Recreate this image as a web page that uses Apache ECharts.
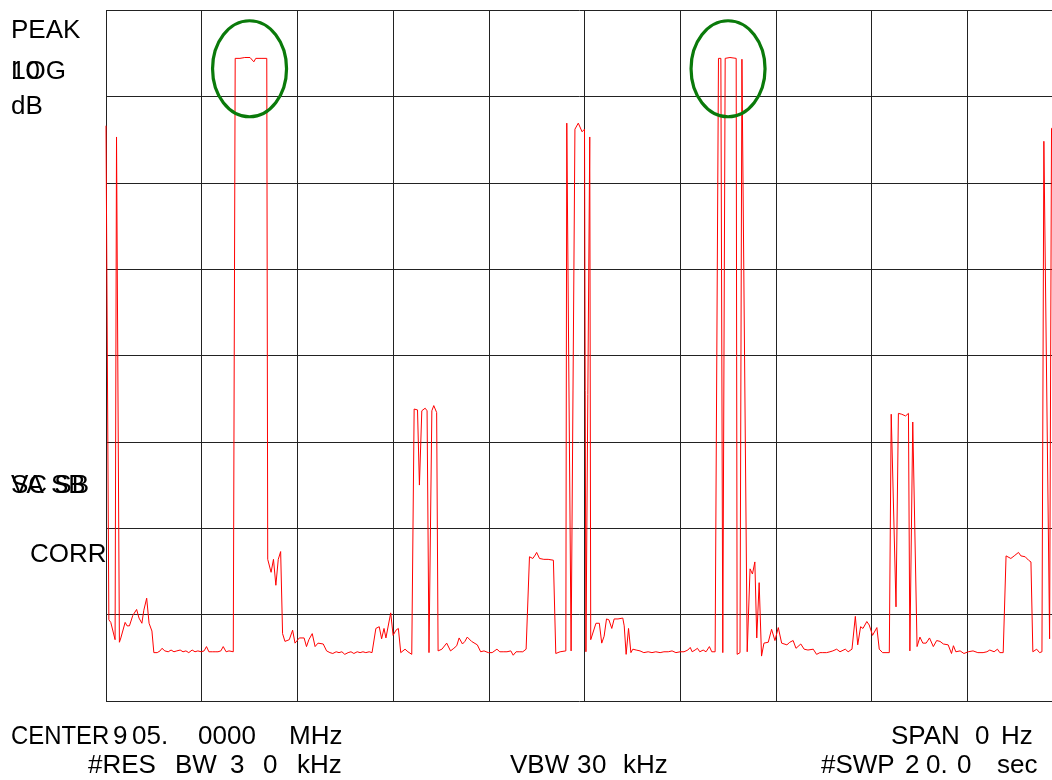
<!DOCTYPE html>
<html>
<head>
<meta charset="utf-8">
<title>Zero-span sweep 905 MHz</title>
<script src="https://cdn.jsdelivr.net/npm/echarts@6/dist/echarts.min.js"></script>
<style>
  html, body { margin: 0; padding: 0; background: #ffffff; }
  #chart { width: 1052px; height: 780px; }
</style>
</head>
<body>
<div id="chart"></div>
<script>
// Zero-span trace: sweep time (s) and detected level (dB, 10 dB/div, top = 0 dB)
const sweepTime = [
  0, 0.04, 0.06, 0.10, 0.19, 0.22, 0.25, 0.28, 0.31, 0.40, 0.44, 0.49, 0.56, 0.64, 0.69, 0.75, 0.79, 0.85, 0.90, 0.96, 1.00,
  1.07, 1.13, 1.17, 1.23, 1.30, 1.36, 1.42, 1.48, 1.55, 1.61, 1.67, 1.73, 1.80, 1.86, 1.92, 1.99, 2.05, 2.10, 2.15, 2.22, 2.28, 2.34, 2.40, 2.45, 2.51, 2.57, 2.61, 2.66,
  2.70, 2.80, 2.90, 3.01, 3.05, 3.09, 3.13, 3.24, 3.36, 3.38, 3.45, 3.50, 3.55, 3.60, 3.65, 3.69, 3.74, 3.83, 3.90, 3.95, 4.04, 4.14, 4.19, 4.24, 4.31, 4.37, 4.43, 4.54, 4.61,
  4.68, 4.74, 4.81, 4.87, 4.93, 4.99, 5.06, 5.12, 5.18, 5.25, 5.31, 5.37, 5.43, 5.50, 5.56, 5.59,
  5.64, 5.71, 5.76, 5.81, 5.85, 5.95, 6.00, 6.06, 6.11, 6.16, 6.25, 6.31, 6.39, 6.44, 6.51, 6.55, 6.60, 6.67, 6.71, 6.75, 6.81, 6.85, 6.91, 6.94, 7.02, 7.12, 7.20, 7.27, 7.33, 7.38, 7.45, 7.50, 7.55, 7.64, 7.76, 7.83, 7.90, 7.99,
  8.07, 8.17, 8.23, 8.30, 8.38, 8.46, 8.51, 8.57, 8.65, 8.71, 8.78, 8.81,
  8.85, 8.92, 8.97, 9.00, 9.06, 9.10, 9.15, 9.24, 9.35, 9.40, 9.49, 9.61, 9.63, 9.66, 9.72, 9.76, 9.80, 9.87, 9.91, 9.95, 10.00, 10.03, 10.07, 10.11, 10.13, 10.17, 10.24, 10.31, 10.36, 10.41, 10.46, 10.51, 10.57, 10.62, 10.70, 10.80, 10.83, 10.87, 10.92, 10.97, 11.01, 11.08, 11.16,
  11.24, 11.33, 11.41, 11.49, 11.58, 11.66, 11.75, 11.83, 11.91, 12.00, 12.08, 12.16, 12.21, 12.25, 12.31, 12.36, 12.41, 12.48, 12.54, 12.61, 12.66, 12.73, 12.76,
  12.80, 12.85, 12.89, 12.92, 12.94, 13.04, 13.17, 13.19, 13.25, 13.29, 13.32, 13.40, 13.46, 13.51, 13.56, 13.60, 13.65, 13.70, 13.75, 13.84, 13.91, 13.98, 14.05, 14.12, 14.23, 14.29, 14.36, 14.42, 14.52, 14.59,
  14.67, 14.78, 14.85, 14.92, 14.98, 15.06, 15.13, 15.19, 15.27, 15.34, 15.45, 15.51, 15.59, 15.66, 15.71, 15.77, 15.82, 15.90, 15.95, 16.02, 16.11, 16.16, 16.23, 16.37,
  16.41, 16.45, 16.51, 16.56, 16.63, 16.66, 16.71, 16.77, 16.80, 16.86, 16.95, 17.01, 17.07, 17.14, 17.21, 17.29, 17.36, 17.43, 17.50, 17.60, 17.67, 17.71, 17.76, 17.85, 17.93, 18.02, 18.12, 18.22, 18.33, 18.41, 18.47, 18.56, 18.63, 18.68, 18.75,
  18.81, 18.91, 18.98, 19.07, 19.12, 19.21, 19.28, 19.33, 19.37, 19.45, 19.51, 19.56, 19.60, 19.63, 19.72, 19.76, 19.82
];
const traceLevel = [
  -13.4, -13.4, -70.6, -70.9, -72.9, -14.7, -14.7, -73.2, -72.7, -70.9, -71.3, -71.3, -70.1, -69.4, -70.4, -71.0, -69.5, -68.1, -71.0, -71.9, -74.4,
  -74.4, -74.2, -73.9, -74.2, -74.3, -74.1, -74.3, -74.2, -74.1, -74.3, -74.2, -74.4, -74.1, -74.3, -74.2, -74.3, -74.2, -73.7, -74.3, -74.3, -74.3, -74.3, -74.2, -73.7, -74.3, -74.2, -74.1, -74.3,
  -5.6, -5.6, -5.5, -5.5, -5.6, -6.0, -5.6, -5.6, -5.6, -63.6, -65.1, -63.6, -66.6, -63.6, -62.7, -72.2, -73.1, -72.9, -71.8, -73.3, -72.7, -72.7, -73.7, -72.9, -72.2, -73.7, -73.3, -73.4, -74.2,
  -74.4, -74.5, -74.3, -74.4, -74.3, -74.6, -74.4, -74.3, -74.5, -74.3, -74.4, -74.3, -74.4, -74.3, -74.4, -74.4,
  -71.6, -71.4, -72.8, -71.6, -72.7, -69.8, -72.4, -71.8, -71.6, -74.4, -74.0, -74.3, -74.6, -46.2, -46.3, -55.0, -46.4, -46.1, -46.4, -74.4, -46.4, -45.8, -46.6, -74.2, -74.0, -73.3, -74.2, -73.9, -73.6, -72.7, -73.4, -73.1, -72.6, -73.1, -73.5, -74.3, -74.2, -74.4,
  -74.4, -74.0, -74.3, -74.3, -74.3, -74.2, -74.7, -74.3, -74.3, -74.3, -74.0, -74.1,
  -63.3, -63.5, -63.1, -62.8, -63.5, -63.3, -63.6, -63.6, -63.7, -74.5, -74.3, -74.2, -13.1, -13.1, -74.2, -74.1, -13.8, -13.1, -13.2, -14.1, -13.8, -74.3, -74.2, -14.7, -72.9, -72.9, -71.0, -71.0, -73.3, -72.5, -70.5, -70.6, -71.6, -70.5, -70.5, -70.4, -71.3, -74.6, -71.6, -74.4, -74.0, -74.1, -74.2,
  -74.4, -74.3, -74.4, -74.3, -74.4, -74.3, -74.3, -74.2, -74.4, -74.3, -74.3, -74.1, -73.8, -74.3, -74.1, -73.9, -74.3, -74.1, -74.3, -73.7, -74.3, -74.3, -74.3,
  -5.6, -5.6, -74.4, -74.4, -5.6, -5.5, -5.6, -74.6, -74.4, -5.7, -5.7, -74.3, -64.7, -65.3, -63.9, -72.7, -66.3, -74.8, -73.3, -73.2, -71.7, -73.0, -71.5, -73.3, -73.5, -73.2, -73.0, -73.9, -73.4, -74.0,
  -74.1, -74.0, -74.6, -74.4, -74.4, -74.4, -74.3, -74.2, -74.0, -74.3, -74.0, -74.3, -74.0, -70.2, -73.5, -71.4, -71.6, -70.8, -71.2, -72.4, -71.5, -74.0, -74.4, -74.4,
  -46.8, -46.9, -69.1, -46.7, -46.8, -46.6, -47.0, -46.7, -74.2, -47.7, -73.7, -72.6, -73.3, -73.3, -72.7, -73.7, -73.0, -73.1, -73.4, -73.5, -74.5, -73.6, -74.3, -74.2, -74.5, -74.3, -74.2, -74.4, -74.4, -74.3, -74.1, -74.3, -74.0, -74.4, -74.4,
  -63.2, -63.5, -63.2, -62.8, -63.2, -63.3, -63.7, -63.9, -74.3, -74.0, -74.4, -74.3, -15.2, -15.2, -72.8, -13.7, -13.7
];

// Circled burst tops (time s, level dB)
const markTime = [3.0, 13.0];
const markLevel = [-6.8, -6.8];

// Screen annotations
const leftLabels = ['PEAK', 'LOG', '10', 'dB', 'VA SB', 'SC SB', 'CORR'];
const centerRow = ['CENTER', '9', '05.', '0000', 'MHz'];
const spanRow = ['SPAN', '0', 'Hz'];
const resRow = ['#RES', 'BW', '3', '0', 'kHz'];
const vbwRow = ['VBW', '3', '0', 'kHz'];
const swpRow = ['#SWP', '2', '0.', '0', 'sec'];

const FONT = '26px "Liberation Sans", Arial, sans-serif';
const chart = echarts.init(document.getElementById('chart'), null, { renderer: 'canvas' });

// Text placed by its left edge and alphabetic baseline; sx squeezes it horizontally
function label(text, x, baseline, sx) {
  return {
    type: 'text', x: x, y: baseline - 9, scaleX: sx || 1, silent: true,
    style: { text: text, font: FONT, fill: '#000000', verticalAlign: 'middle', align: 'left' }
  };
}
function row(tokens, xs, baseline, sxs) {
  return tokens.map((t, i) => label(t, xs[i], baseline, sxs ? sxs[i] : 1));
}

const graphics = [
  label(leftLabels[0], 11, 40),
  label(leftLabels[1], 11, 81),
  label(leftLabels[2], 11, 81),
  label(leftLabels[3], 11, 115.5),
  label(leftLabels[4], 11, 495),
  label(leftLabels[5], 11, 495),
  label(leftLabels[6], 30, 564)
]
  .concat(row(centerRow, [11, 113, 132, 198, 289], 746, [0.92, 1, 1, 1, 1]))
  .concat(row(spanRow, [891, 975, 1001], 746))
  .concat(row(resRow, [88, 175, 230, 263, 297], 775))
  .concat(row(vbwRow, [510, 577, 592, 623], 775))
  .concat(row(swpRow, [821, 905, 926, 957, 997], 775));

const gridLine = { show: true, lineStyle: { color: '#222222', width: 1, type: 'solid' } };

chart.setOption({
  animation: false,
  backgroundColor: '#ffffff',
  grid: { left: 106, top: 10, width: 957, height: 691, outerBoundsMode: 'none' },
  xAxis: {
    type: 'value', min: 0, max: 20, interval: 2,
    axisLine: { show: false }, axisTick: { show: false }, axisLabel: { show: false },
    splitLine: gridLine
  },
  yAxis: {
    type: 'value', min: -80, max: 0, interval: 10,
    axisLine: { show: false }, axisTick: { show: false }, axisLabel: { show: false },
    splitLine: gridLine
  },
  series: [
    {
      type: 'line',
      data: sweepTime.map((t, i) => [t, traceLevel[i]]),
      symbol: 'none',
      lineStyle: { color: '#ff0000', width: 1 },
      clip: true,
      silent: true,
      z: 3
    },
    {
      type: 'custom',
      data: markTime.map((t, i) => [t, markLevel[i]]),
      silent: true,
      z: 4,
      renderItem: function (params, api) {
        const c = api.coord([api.value(0), api.value(1)]);
        return {
          type: 'ellipse',
          shape: { cx: c[0], cy: c[1], rx: 37, ry: 48 },
          style: { fill: 'none', stroke: '#0a7a0a', lineWidth: 3.2 }
        };
      }
    }
  ],
  graphic: graphics
});
</script>
</body>
</html>
